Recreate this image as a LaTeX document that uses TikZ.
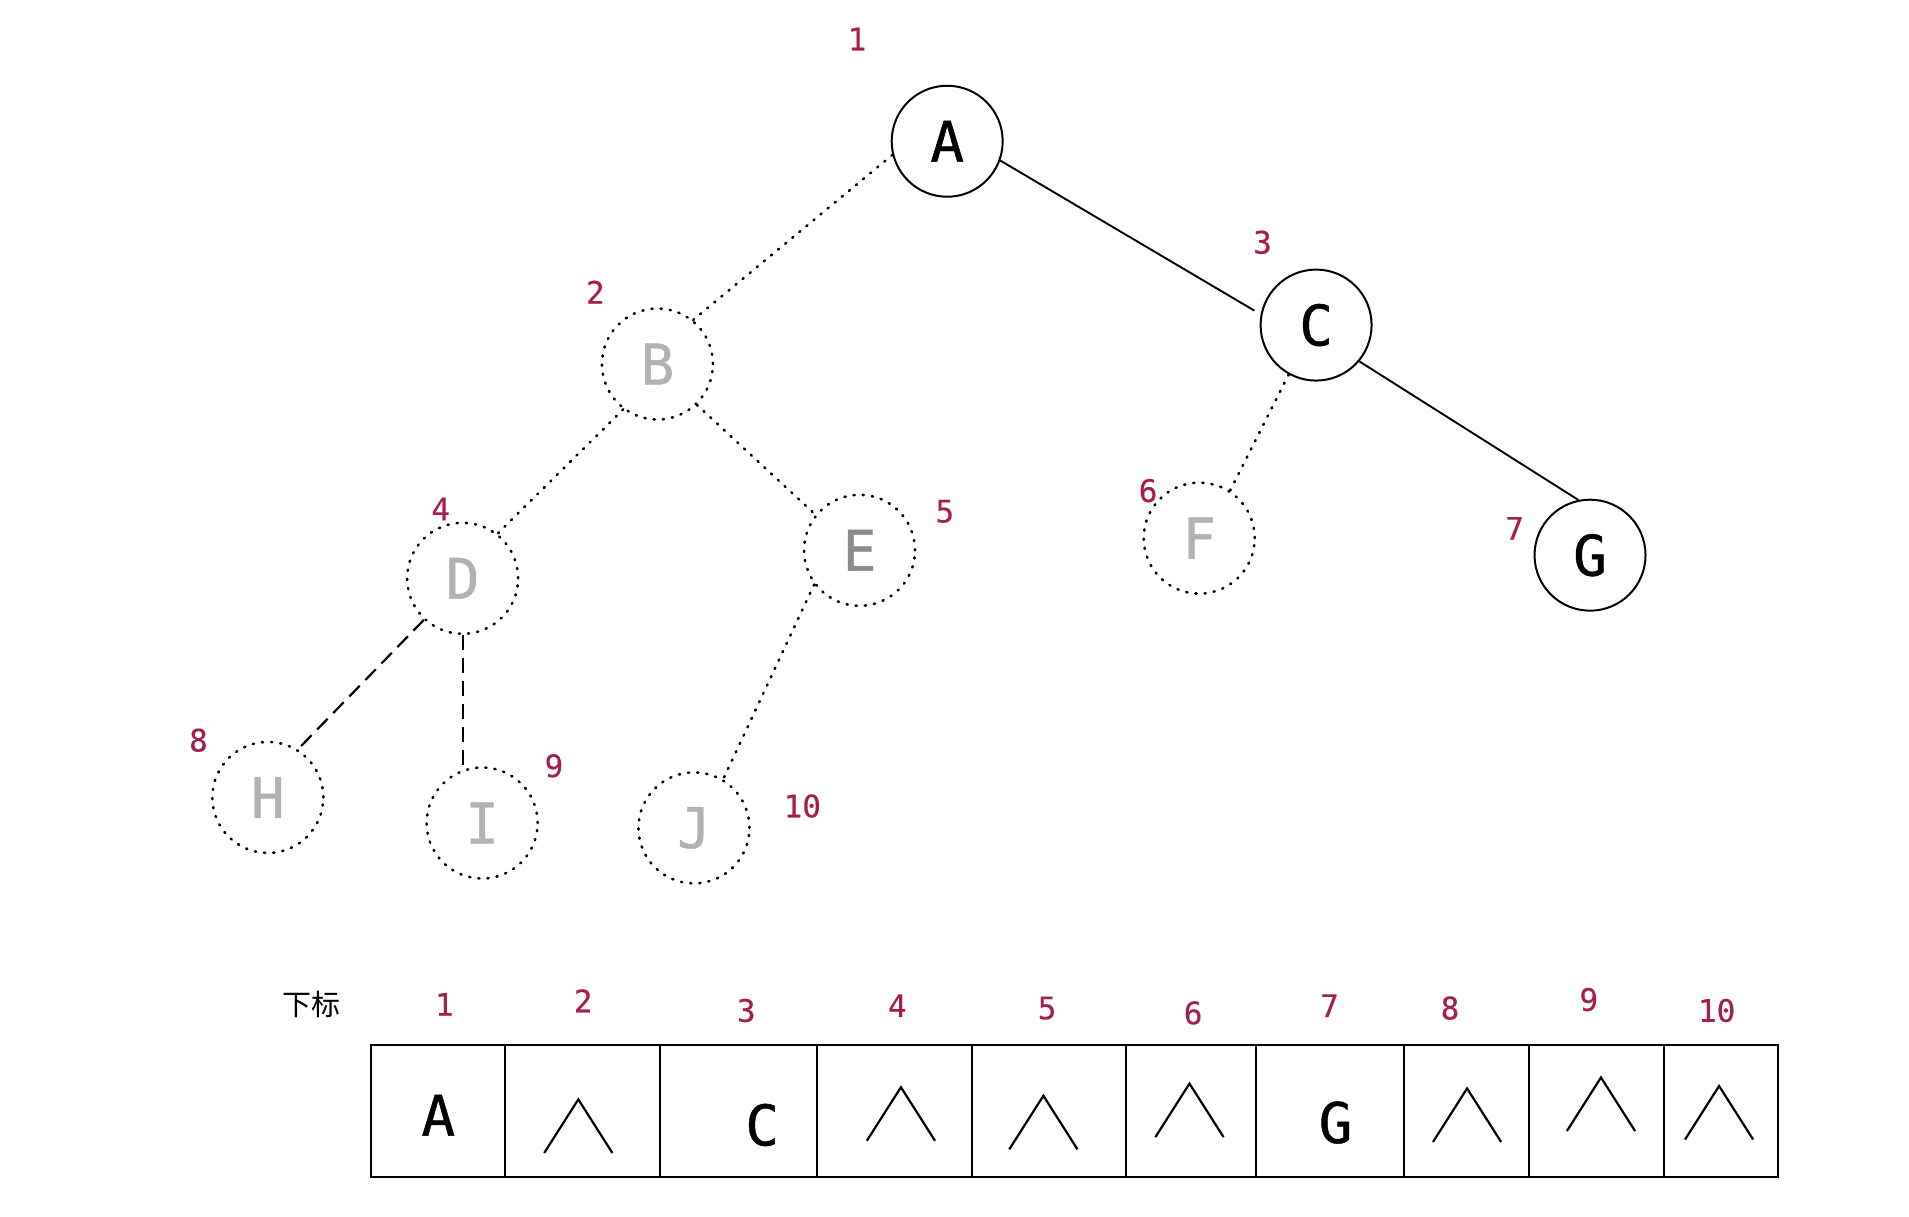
\documentclass[tikz,border=0pt]{standalone}
\usepackage{fontspec}
\newfontfamily\monof[FakeBold=0.8]{DejaVu Sans Mono}
\newfontfamily\monon[FakeBold=0.4]{DejaVu Sans Mono}
\newfontfamily\cjkf{Noto Sans CJK SC}
\definecolor{idx}{HTML}{A61E4D}
\begin{document}
\begin{tikzpicture}[x=1.2175pt,y=-1.2175pt,
  letter/.style={font=\monof\fontsize{56}{58}\selectfont},
  realnode/.style={circle, draw, line width=2pt, minimum size=111pt, inner sep=0pt, letter},
  ghostnode/.style={circle, draw, line width=2.6pt, dash pattern=on 1.2pt off 8pt, line cap=round, minimum size=111pt, inner sep=0pt, letter, text=black!30},
  idxlabel/.style={text=idx, font=\monon\fontsize{31}{33}\selectfont, inner sep=0pt},
  solidedge/.style={line width=1.9pt},
  dotedge/.style={line width=2.6pt, dash pattern=on 1.2pt off 8pt, line cap=round},
  dashedge/.style={line width=2.2pt, dash pattern=on 15pt off 8pt},
  cell/.style={draw, line width=2pt, minimum height=132.7pt, inner sep=0pt},
  chevline/.style={line width=2.2pt, line join=miter},
  chev/.pic={\draw[chevline] (-28,22) -- (0,-22) -- (28,22);}
]
\useasboundingbox (0,0) rectangle (1568,999);

% tree nodes
\node[realnode] (A) at (778,116) {A};
\node[realnode] (C) at (1081,267) {C};
\node[realnode] (G) at (1306,456) {G};
\node[ghostnode] (B) at (540,299) {B};
\node[ghostnode] (D) at (380,475) {D};
\node[ghostnode, text=black!45] (E) at (706,452) {E};
\node[ghostnode] (F) at (985,442) {F};
\node[ghostnode] (H) at (220,655) {H};
\node[ghostnode] (I) at (396,676) {I};
\node[ghostnode] (J) at (570,680) {J};

% index labels of tree
\node[idxlabel] (tA) at (704,32) {1};
\node[idxlabel] (tB) at (489,240) {2};
\node[idxlabel] (tC) at (1037,199) {3};
\node[idxlabel] (tD) at (362,418) {4};
\node[idxlabel] (tE) at (776,420) {5};
\node[idxlabel] (tF) at (943,403) {6};
\node[idxlabel] (tG) at (1244,434) {7};
\node[idxlabel] (tH) at (163,608) {8};
\node[idxlabel] (tI) at (455,629) {9};
\node[idxlabel] (tJ) at (659,662) {10};

% edges
\draw[solidedge] (A.-20) -- ([shift={(-8pt,-3pt)}]C.162);
\draw[solidedge] (C.-40) -- (G.102);
\draw[dotedge] (A.194) -- (B.51);
\draw[dotedge] (B.233) -- (D.52);
\draw[dotedge] (B.-46) -- (E.141);
\draw[dotedge] (C.-119) -- (F.57);
\draw[dotedge] (E.-143) -- (J.59);
\draw[dashedge] (D.-133) -- (H.58);
\draw[dashedge] (D.south) -- (D.south |- I.109);

% array
\node[font=\cjkf\fontsize{29}{31}\selectfont, inner sep=0pt] (sub) at (256,825) {下标};
\node[cell, minimum width=133.9pt] (c1) at (360,912.5) {};
\node[cell, minimum width=154.6pt] (c2) at (478.5,912.5) {};
\node[cell, minimum width=157.1pt] (c3) at (606.5,912.5) {};
\node[cell, minimum width=154.6pt] (c4) at (734.5,912.5) {};
\node[cell, minimum width=154.6pt] (c5) at (861.5,912.5) {};
\node[cell, minimum width=130.3pt] (c6) at (978.5,912.5) {};
\node[cell, minimum width=147.3pt] (c7) at (1092.5,912.5) {};
\node[cell, minimum width=125.4pt] (c8) at (1204.5,912.5) {};
\node[cell, minimum width=135.1pt] (c9) at (1311.5,912.5) {};
\node[cell, minimum width=113.2pt] (c10) at (1413.5,912.5) {};

\node[letter, inner sep=0pt] (vA) at (360,916) {A};
\node[letter, inner sep=0pt] (vC) at (626,924) {C};
\node[letter, inner sep=0pt] (vG) at (1097,922) {G};

\pic at (475,925) {chev};
\pic at (740,915) {chev};
\pic at (857,922) {chev};
\pic at (977,912) {chev};
\pic at (1205,916) {chev};
\pic at (1315,907) {chev};
\pic at (1412,914) {chev};

\node[idxlabel] (i1) at (365,825) {1};
\node[idxlabel] (i2) at (479,822) {2};
\node[idxlabel] (i3) at (613,830) {3};
\node[idxlabel] (i4) at (737,826) {4};
\node[idxlabel] (i5) at (860,828) {5};
\node[idxlabel] (i6) at (980,832) {6};
\node[idxlabel] (i7) at (1092,826) {7};
\node[idxlabel] (i8) at (1191,828) {8};
\node[idxlabel] (i9) at (1305,821) {9};
\node[idxlabel] (i10) at (1410,830) {10};
\end{tikzpicture}
\end{document}
